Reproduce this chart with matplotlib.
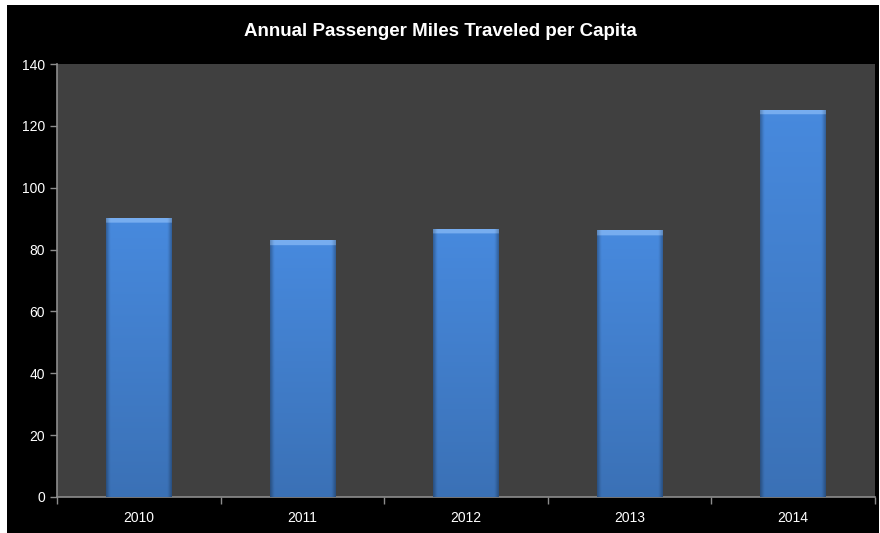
import numpy as np
import matplotlib
matplotlib.use('Agg')
import matplotlib.pyplot as plt
from matplotlib.patches import Rectangle

years = ['2010', '2011', '2012', '2013', '2014']
miles = [90.2, 83.0, 86.8, 86.2, 125.2]
title = 'Annual Passenger Miles Traveled per Capita'

plt.rcParams['font.family'] = ['Liberation Sans', 'DejaVu Sans']

fig = plt.figure(figsize=(8.8, 5.33), dpi=100, facecolor='white')
# black chart area with thin white margin top/left
fig.patches.append(Rectangle((7/880., 0), 872/880., 528/533., transform=fig.transFigure,
                             facecolor='black', edgecolor='none', zorder=-10))

ax = fig.add_axes([57/880., 36/533., 818/880., 433/533.])
ax.set_facecolor('#404040')

x = np.arange(len(years))
w = 0.4
bars = ax.bar(x, miles, width=w, color='#4580d4', zorder=2)

# shaded bars: dark sides, light bevel at top, slightly darker at bottom
def bar_image(height):
    ny, nx = 300, 60
    u = np.linspace(0, 1, nx)
    v = np.linspace(0, 1, ny)[:, None]  # 0 bottom, 1 top
    side = np.clip(np.minimum(u, 1 - u) / 0.06, 0, 1)[None, :]
    base = np.array([0.28, 0.54, 0.87])
    shade = 0.82 + 0.18 * v
    img = base[None, None, :] * shade[..., None] * (0.72 + 0.28 * side[..., None])
    top_px = 4.5 / (height * 3.093)
    bevel = (v > 1 - top_px)
    img = np.where(bevel[..., None], np.array([0.47, 0.68, 0.94])[None, None, :] * (0.8 + 0.2 * side[..., None]), img)
    return np.clip(img, 0, 1)

for b, h in zip(bars, miles):
    x0 = b.get_x()
    im = ax.imshow(bar_image(h), extent=(x0, x0 + w, 0, h), origin='lower',
                   aspect='auto', zorder=3, interpolation='bilinear')
    im.set_clip_path(b)

ax.set_xlim(-0.5, len(years) - 0.5)
ax.set_ylim(0, 140)
ax.set_yticks(np.arange(0, 141, 20))
ax.set_xticks(np.arange(-0.5, len(years), 1))
ax.set_xticklabels([])
ax.set_xticks(x, minor=True)
ax.set_xticklabels(years, minor=True)

for s in ['top', 'right']:
    ax.spines[s].set_visible(False)
for s in ['left', 'bottom']:
    ax.spines[s].set_color('#8c8c8c')
    ax.spines[s].set_linewidth(1.2)
ax.tick_params(axis='both', which='major', color='#8c8c8c', length=5, width=1,
               labelcolor='white', labelsize=10)
ax.tick_params(axis='x', which='minor', length=0, labelcolor='white', labelsize=10, pad=10)

fig.text(0.5, 1 - 32/533., title, color='white', fontsize=13.5, fontweight='bold',
         ha='center', va='center')

fig.savefig('out.png', dpi=100, facecolor=fig.get_facecolor())
